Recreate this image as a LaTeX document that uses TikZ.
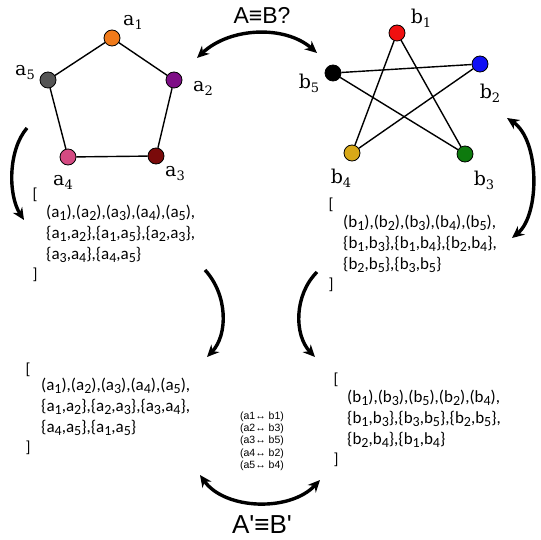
\documentclass[tikz,border=0pt]{standalone}
\usepackage{fontspec}
\setmainfont{Carlito}
\newfontfamily\lblfont{DejaVu Serif}
\newfontfamily\arialfont{Liberation Sans}
\usetikzlibrary{arrows.meta}
\definecolor{cA1}{HTML}{F07A1A}
\definecolor{cA2}{HTML}{7E0E86}
\definecolor{cA3}{HTML}{7A0A0A}
\definecolor{cA4}{HTML}{D44A82}
\definecolor{cA5}{HTML}{555555}
\definecolor{cB1}{HTML}{F01010}
\definecolor{cB2}{HTML}{1010F5}
\definecolor{cB3}{HTML}{0E7A0E}
\definecolor{cB4}{HTML}{D8A818}
\definecolor{cB5}{HTML}{000000}
\newcommand\ssub[1]{{\fontsize{14}{14}\selectfont\raisebox{-3pt}{#1}}}
\newcommand\lsub[1]{{\fontsize{13}{13}\selectfont\raisebox{-4pt}{#1}}}
\tikzset{
  vert/.style={circle,draw=black,line width=0.8pt,minimum size=16pt,inner sep=0pt},
  vlabel/.style={font=\lblfont\fontsize{19}{19}\selectfont,inner sep=0pt},
  edge/.style={line width=1.4pt},
  bigarrow/.style={line width=3.4pt,-{Stealth[length=12pt,width=11pt]}},
  dblarrow/.style={line width=3.4pt,{Stealth[length=12pt,width=11pt]}-{Stealth[length=12pt,width=11pt]}},
  listtext/.style={font=\fontsize{17}{21}\selectfont,align=left,anchor=north west,inner sep=0pt},
  brack/.style={font=\fontsize{16}{16}\selectfont,inner sep=0pt},
}
\begin{document}
\begin{tikzpicture}[x=1pt,y=-1pt]
\useasboundingbox (0,0) rectangle (540,540);
% graph A
\node[vert,fill=cA1] (a1) at (112,38) {};
\node[vert,fill=cA2] (a2) at (174,80) {};
\node[vert,fill=cA3] (a3) at (156,156) {};
\node[vert,fill=cA4] (a4) at (68,157) {};
\node[vert,fill=cA5] (a5) at (48,80) {};
\draw[edge] (a1) -- (a2);
\draw[edge] (a2) -- (a3);
\draw[edge] (a3) -- (a4);
\draw[edge] (a4) -- (a5);
\draw[edge] (a5) -- (a1);
\node[vlabel] (la1) at (133,22) {a\lsub{1}};
\node[vlabel] (la2) at (203,88) {a\lsub{2}};
\node[vlabel] (la3) at (175,174) {a\lsub{3}};
\node[vlabel] (la4) at (63,182) {a\lsub{4}};
\node[vlabel] (la5) at (25,73) {a\lsub{5}};
% graph B
\node[vert,fill=cB1] (b1) at (397,33) {};
\node[vert,fill=cB2] (b2) at (480,64) {};
\node[vert,fill=cB3] (b3) at (465,154) {};
\node[vert,fill=cB4] (b4) at (352,153) {};
\node[vert,fill=cB5] (b5) at (333,73) {};
\draw[edge] (b1) -- (b3);
\draw[edge] (b1) -- (b4);
\draw[edge] (b2) -- (b4);
\draw[edge] (b2) -- (b5);
\draw[edge] (b3) -- (b5);
\node[vlabel] (lb1) at (421,18) {b\lsub{1}};
\node[vlabel] (lb2) at (490,93) {b\lsub{2}};
\node[vlabel] (lb3) at (484,180) {b\lsub{3}};
\node[vlabel] (lb4) at (341,178) {b\lsub{4}};
\node[vlabel] (lb5) at (309,83) {b\lsub{5}};
% titles
\node[font=\arialfont\fontsize{23}{23}\selectfont,inner sep=0pt] (t1) at (262,15) {A≡B?};
\node[font=\arialfont\fontsize{26}{26}\selectfont,inner sep=0pt] (t2) at (262,525) {A'≡B'};
% lists
\node[brack] (lbA1) at (35,195) {[};
\node[brack] (rbA1) at (35,275) {]};
\node[listtext] (LA1) at (46,205) {(a\ssub{1}),(a\ssub{2}),(a\ssub{3}),(a\ssub{4}),(a\ssub{5}),\\
 \{a\ssub{1},a\ssub{2}\},\{a\ssub{1},a\ssub{5}\},\{a\ssub{2},a\ssub{3}\},\\
 \{a\ssub{3},a\ssub{4}\},\{a\ssub{4},a\ssub{5}\}};
\node[brack] (lbB1) at (331,205) {[};
\node[brack] (rbB1) at (331,285) {]};
\node[listtext] (LB1) at (343,215) {(b\ssub{1}),(b\ssub{2}),(b\ssub{3}),(b\ssub{4}),(b\ssub{5}),\\
 \{b\ssub{1},b\ssub{3}\},\{b\ssub{1},b\ssub{4}\},\{b\ssub{2},b\ssub{4}\},\\
 \{b\ssub{2},b\ssub{5}\},\{b\ssub{3},b\ssub{5}\}};
\node[brack] (lbA2) at (28,370) {[};
\node[brack] (rbA2) at (28,448) {]};
\node[listtext] (LA2) at (41,378) {(a\ssub{1}),(a\ssub{2}),(a\ssub{3}),(a\ssub{4}),(a\ssub{5}),\\
 \{a\ssub{1},a\ssub{2}\},\{a\ssub{2},a\ssub{3}\},\{a\ssub{3},a\ssub{4}\},\\
 \{a\ssub{4},a\ssub{5}\},\{a\ssub{1},a\ssub{5}\}};
\node[brack] (lbB2) at (336,380) {[};
\node[brack] (rbB2) at (336,460) {]};
\node[listtext] (LB2) at (347,390) {(b\ssub{1}),(b\ssub{3}),(b\ssub{5}),(b\ssub{2}),(b\ssub{4}),\\
 \{b\ssub{1},b\ssub{3}\},\{b\ssub{3},b\ssub{5}\},\{b\ssub{2},b\ssub{5}\},\\
 \{b\ssub{2},b\ssub{4}\},\{b\ssub{1},b\ssub{4}\}};
% mapping
\node[font=\arialfont\fontsize{10.5}{12.3}\selectfont,align=center,inner sep=0pt] (map) at (262,441)
 {(a1↔ b1)\\(a2↔ b3)\\(a3↔ b5)\\(a4↔ b2)\\(a5↔ b4)};
% arrow end points
\coordinate (tS) at (197,58);
\coordinate (tE) at (317,53);
\coordinate (lS) at (27,128);
\coordinate (lE) at (24,220);
\coordinate (rS) at (507,118);
\coordinate (rE) at (512,238);
\coordinate (mlS) at (205,270);
\coordinate (mlE) at (207,357);
\coordinate (mrS) at (317,272);
\coordinate (mrE) at (315,357);
\coordinate (bS) at (200,475);
\coordinate (bE) at (320,480);
\draw[dblarrow] (tS) .. controls (230,27) and (285,25) .. (tE);
\draw[bigarrow] (lS) .. controls (8,150) and (8,195) .. (lE);
\draw[dblarrow] (rS) .. controls (540,140) and (540,215) .. (rE);
\draw[bigarrow] (mlS) .. controls (228,295) and (228,335) .. (mlE);
\draw[bigarrow] (mrS) .. controls (294,295) and (294,335) .. (mrE);
\draw[dblarrow] (bS) .. controls (225,510) and (290,512) .. (bE);
\end{tikzpicture}
\end{document}
